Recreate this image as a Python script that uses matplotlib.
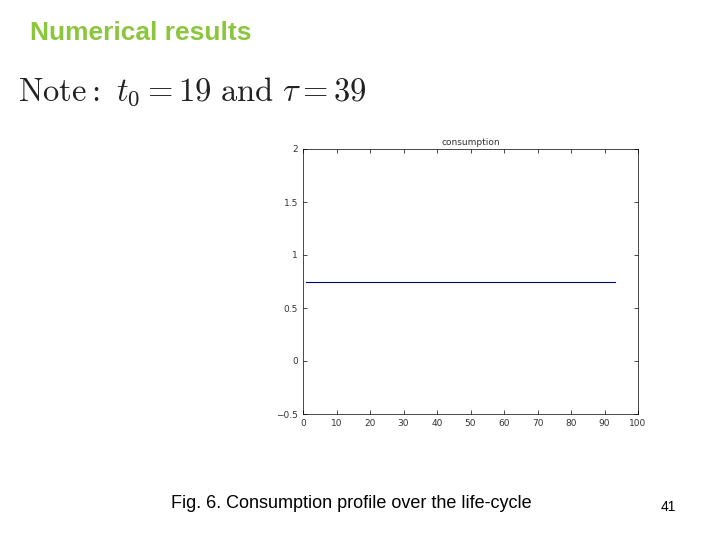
import matplotlib
matplotlib.use("Agg")
import matplotlib.pyplot as plt

ages = [1, 93]
consumption = [0.75, 0.75]
xticks = [0, 10, 20, 30, 40, 50, 60, 70, 80, 90, 100]
yticks = [-0.5, 0, 0.5, 1, 1.5, 2]

fig = plt.figure(figsize=(7.2, 5.4), dpi=100)
fig.text(30/720, 1-33/540, "Numerical results", color="#8cc63f", fontsize=19,
         fontweight="bold", family="Liberation Sans", va="center")
fig.text(18/720, 1-92/540, r"$\mathrm{Note:}\ t_0 = 19\ \mathrm{and}\ \tau = 39$",
         fontsize=23.5, va="center", math_fontfamily="cm", color="#222222")
fig.text(351/720, 1-503/540, "Fig. 6. Consumption profile over the life-cycle",
         fontsize=13, ha="center", va="center", family="Liberation Sans")
fig.text(668/720, 1-507/540, "41", fontsize=10, ha="center", va="center",
         family="Liberation Sans")

ax = fig.add_axes([303/720, 126/540, 335/720, 265/540])
ax.plot(ages, consumption, color="#00008b", lw=0.8)
ax.set_xlim(0, 100)
ax.set_ylim(-0.5, 2)
ax.set_xticks(xticks)
ax.set_yticks(yticks)
ax.set_yticklabels(["\u22120.5", "0", "0.5", "1", "1.5", "2"])
ax.tick_params(labelsize=6.5, direction="in", top=True, right=True, length=3, width=0.5,
               labelcolor="#333333")
for s in ax.spines.values():
    s.set_linewidth(0.5)
ax.set_title("consumption", fontsize=6.5, pad=3, color="#333333")
fig.savefig("out.png", dpi=100)
